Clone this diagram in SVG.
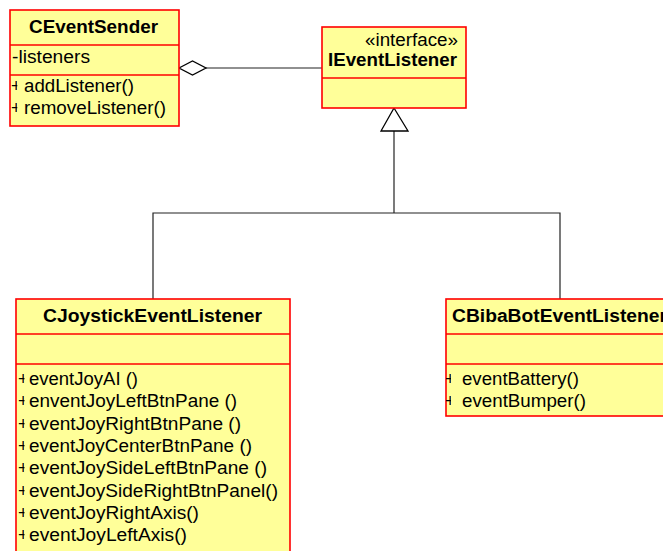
<svg xmlns="http://www.w3.org/2000/svg" width="663" height="551" viewBox="0 0 663 551">
<defs>
<style>
.box{fill:#FFFF99;stroke:#FF0000;stroke-width:1.6}
.div{stroke:#FF0000;stroke-width:1.6;fill:none}
.t{font-family:"Liberation Sans",Arial,sans-serif;font-size:17.5px;fill:#000}
.b{font-weight:bold}
.c{stroke:#222;stroke-width:1.2;fill:none}
.head{stroke:#000;stroke-width:1.3;fill:#fff}
</style>
<clipPath id="pc">
<rect x="0" y="75" width="17.3" height="51"/>
<rect x="16" y="364" width="8.5" height="187"/>
<rect x="446" y="364" width="5" height="52"/>
</clipPath>
</defs>
<rect width="663" height="551" fill="#fff"/>
<g id="connectors">
<line class="c" x1="206" y1="68" x2="322" y2="68"/>
<polygon class="head" points="179,68 192.5,61 206,68 192.5,75"/>
<polyline class="c" points="153,299 153,213 560,213 560,299"/>
<line class="c" x1="394" y1="131" x2="394" y2="213"/>
<polygon class="head" points="394,108 408,131 381,131"/>
</g>
<g id="CEventSender">
<rect class="box" x="10" y="10" width="169" height="116"/>
<line class="div" x1="10" y1="45" x2="179" y2="45"/>
<line class="div" x1="10" y1="75" x2="179" y2="75"/>
<text class="t b" x="29" y="33" textLength="129" lengthAdjust="spacingAndGlyphs">CEventSender</text>
<text class="t" x="12" y="63" textLength="78" lengthAdjust="spacingAndGlyphs">-listeners</text>
<g clip-path="url(#pc)">
<text class="t" x="11" y="92">+</text>
<text class="t" x="11" y="114">+</text>
</g>
<text class="t" x="24" y="92" textLength="110" lengthAdjust="spacingAndGlyphs">addListener()</text>
<text class="t" x="24" y="114" textLength="142" lengthAdjust="spacingAndGlyphs">removeListener()</text>
</g>
<g id="IEventListener">
<rect class="box" x="322" y="27" width="144" height="81"/>
<line class="div" x1="322" y1="78" x2="466" y2="78"/>
<text class="t" x="365" y="46" textLength="93" lengthAdjust="spacingAndGlyphs">«interface»</text>
<text class="t b" x="328" y="66" textLength="129" lengthAdjust="spacingAndGlyphs">IEventListener</text>
</g>
<g id="CJoystickEventListener">
<rect class="box" x="16" y="299" width="274" height="270"/>
<line class="div" x1="16" y1="334" x2="290" y2="334"/>
<line class="div" x1="16" y1="364" x2="290" y2="364"/>
<text class="t b" x="43" y="322" textLength="219" lengthAdjust="spacingAndGlyphs">CJoystickEventListener</text>
<g clip-path="url(#pc)">
<text class="t" x="18" y="385">+</text>
<text class="t" x="18" y="407.3">+</text>
<text class="t" x="18" y="429.6">+</text>
<text class="t" x="18" y="451.9">+</text>
<text class="t" x="18" y="474.2">+</text>
<text class="t" x="18" y="496.5">+</text>
<text class="t" x="18" y="518.8">+</text>
<text class="t" x="18" y="541.1">+</text>
</g>
<text class="t" x="29" y="385" textLength="109" lengthAdjust="spacingAndGlyphs">eventJoyAI ()</text>
<text class="t" x="29" y="407.3" textLength="208" lengthAdjust="spacingAndGlyphs">enventJoyLeftBtnPane ()</text>
<text class="t" x="29" y="429.6" textLength="212" lengthAdjust="spacingAndGlyphs">eventJoyRightBtnPane ()</text>
<text class="t" x="29" y="451.9" textLength="223" lengthAdjust="spacingAndGlyphs">eventJoyCenterBtnPane ()</text>
<text class="t" x="29" y="474.2" textLength="238" lengthAdjust="spacingAndGlyphs">eventJoySideLeftBtnPane ()</text>
<text class="t" x="29" y="496.5" textLength="249" lengthAdjust="spacingAndGlyphs">eventJoySideRightBtnPanel()</text>
<text class="t" x="29" y="518.8" textLength="170" lengthAdjust="spacingAndGlyphs">eventJoyRightAxis()</text>
<text class="t" x="29" y="541.1" textLength="158" lengthAdjust="spacingAndGlyphs">eventJoyLeftAxis()</text>
</g>
<g id="CBibaBotEventListener">
<rect class="box" x="446" y="299" width="240" height="117"/>
<line class="div" x1="446" y1="334" x2="686" y2="334"/>
<line class="div" x1="446" y1="364" x2="686" y2="364"/>
<text class="t b" x="452" y="322" textLength="215" lengthAdjust="spacingAndGlyphs">CBibaBotEventListener</text>
<g clip-path="url(#pc)">
<text class="t" x="445" y="385">+</text>
<text class="t" x="445" y="407.3">+</text>
</g>
<text class="t" x="462" y="385" textLength="117" lengthAdjust="spacingAndGlyphs">eventBattery()</text>
<text class="t" x="462" y="407.3" textLength="124" lengthAdjust="spacingAndGlyphs">eventBumper()</text>
</g>
</svg>
